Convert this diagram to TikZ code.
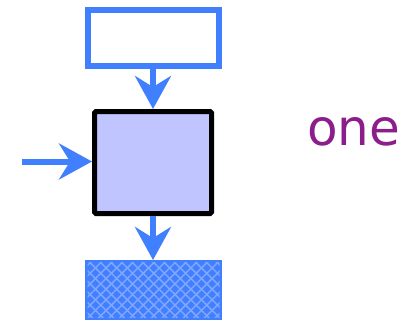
\documentclass[tikz,border=0pt]{standalone}
\usepackage{fontspec}
\setmainfont{DejaVu Sans}
\usetikzlibrary{arrows.meta,patterns.meta}
\definecolor{flowblue}{RGB}{64,128,255}
\definecolor{hatchblue}{RGB}{130,165,255}
\definecolor{procfill}{RGB}{192,196,255}
\definecolor{labelpurple}{RGB}{140,30,140}
\begin{document}
\begin{tikzpicture}[x=1pt,y=-1pt,
  inbox/.style={draw=flowblue,line width=6pt,fill=white,minimum width=131pt,minimum height=56pt,inner sep=0pt},
  procbox/.style={draw=black,line width=5pt,fill=procfill,rounded corners=1.5pt,minimum width=117pt,minimum height=102pt,inner sep=0pt},
  outbox/.style={draw=flowblue,line width=5pt,fill=flowblue,minimum width=132pt,minimum height=55pt,inner sep=0pt},
  hatch/.style={pattern={Lines[angle=#1,distance=7.5pt,line width=1.5pt]},pattern color=hatchblue},
  flow/.style={draw=flowblue,line width=6pt,-{Stealth[length=33pt,width=36pt,inset=11pt]}}]
\useasboundingbox (0,0) rectangle (406,321);
\node[inbox] (src) at (153.5,38) {};
\node[procbox] (proc) at (153,162.5) {};
\node[outbox] (dst) at (153.5,290) {};
% diagonal cross-hatching inside the output block
\foreach \ang in {45,-45}
  \fill[hatch=\ang] ([shift={(2.5pt,-2.5pt)}]dst.north west) rectangle ([shift={(-2.5pt,2.5pt)}]dst.south east);
\coordinate (feed) at (22,161.5);
\draw[flow] (src.south -| proc.north) -- (proc.north);
\draw[flow] (proc.south) -- (proc.south |- dst.north);
\draw[flow] (feed) -- (feed -| proc.west);
\node[anchor=base west,inner sep=0pt,text=labelpurple,font=\fontsize{50}{50}\selectfont] (lbl) at (307,145) {one};
\end{tikzpicture}
\end{document}
